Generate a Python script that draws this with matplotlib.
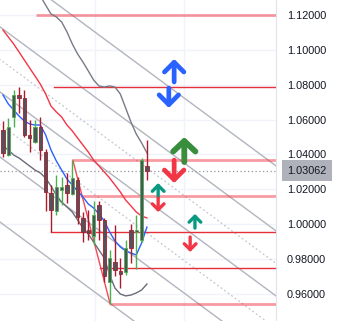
import matplotlib
matplotlib.use("Agg")
import matplotlib.pyplot as plt
import numpy as np

plt.rcParams['font.family'] = ['Liberation Sans', 'DejaVu Sans']

# velas (indice de barra, precios)
opens = [1.0540, 1.0396, 1.0615, 1.0741, 1.0724, 1.0512, 1.0471, 1.0557, 1.0414, 1.0179,
         1.0076, 1.0196, 1.0225, 1.0173, 1.0254, 1.0036, 0.9967, 0.9933, 1.0110, 1.0024,
         0.9669, 0.9784, 0.9732, 0.9726, 0.9967, 0.9956, 0.9910, 1.0334]
highs = [1.0592, 1.0609, 1.0770, 1.0787, 1.0770, 1.0598, 1.0598, 1.0615, 1.0431, 1.0225,
         1.0282, 1.0271, 1.0294, 1.0368, 1.0271, 1.0071, 1.0082, 1.0133, 1.0133, 1.0036,
         0.9852, 0.9996, 0.9807, 0.9910, 1.0000, 1.0053, 1.0380, 1.0483]
lows = [1.0386, 1.0390, 1.0557, 1.0638, 1.0500, 1.0414, 1.0465, 1.0368, 1.0076, 0.9956,
        1.0053, 1.0110, 1.0122, 1.0167, 1.0000, 0.9899, 0.9910, 0.9882, 0.9910, 0.9669,
        0.9544, 0.9706, 0.9634, 0.9709, 0.9778, 0.9744, 0.9899, 1.0254]
closes = [1.0408, 1.0557, 1.0741, 1.0724, 1.0512, 1.0494, 1.0557, 1.0426, 1.0184, 1.0082,
          1.0213, 1.0213, 1.0179, 1.0265, 1.0041, 0.9956, 0.9950, 1.0053, 1.0024, 0.9706,
          0.9807, 0.9738, 0.9715, 0.9864, 0.9864, 0.9967, 1.0368, 1.03062]

# medias moviles
ma_azul = [1.0741, 1.0690, 1.0655, 1.0621, 1.0592, 1.0575, 1.0569, 1.0569, 1.0512, 1.0426,
           1.0363, 1.0311, 1.0259, 1.0225, 1.0190, 1.0156, 1.0116, 1.0093, 1.0059, 1.0019,
           0.9956, 0.9904, 0.9870, 0.9847, 0.9835, 0.9824, 0.9893, 0.9984]
ma_roja = [1.1114, 1.1074, 1.1034, 1.0988, 1.0942, 1.0896, 1.0850, 1.0804, 1.0747, 1.0678,
           1.0644, 1.0615, 1.0569, 1.0535, 1.0494, 1.0454, 1.0414, 1.0368, 1.0334, 1.0300,
           1.0265, 1.0225, 1.0185, 1.0139, 1.0105, 1.0070, 1.0047, 1.0036]
ma_gris_baja = [1.0449, 1.0426, 1.0397, 1.0380, 1.0357, 1.0334, 1.0311, 1.0294, 1.0265, 1.0219,
                1.0167, 1.0127, 1.0099, 1.0070, 1.0024, 0.9979, 0.9944, 0.9898, 0.9852, 0.9807,
                0.9709, 0.9634, 0.9600, 0.9589, 0.9594, 0.9606, 0.9623, 0.9657]
ma_gris_alta_inicio = 7
ma_gris_alta = [1.1309, 1.1257, 1.1206, 1.1189, 1.1160, 1.1103, 1.1034, 1.0976, 1.0930, 1.0879,
                1.0827, 1.0793, 1.0787, 1.0793, 1.0787, 1.0747, 1.0667, 1.0586, 1.0517, 1.0466,
                1.0409]

# niveles horizontales (precio, barra de inicio, grueso)
niveles = [1.1200, 1.0787, 1.0368, 1.0162, 0.9956, 0.9749, 0.9543]
niveles_inicio = [6.2, 9.6, 13.1, 14.4, 9.0, 18.2, 20.1]
niveles_gruesos = [True, False, True, True, False, False, True]

# linea roja diagonal (maximo barra 13 -> minimo barra 20)
diag_x = [13.1, 20.1]
diag_y = [1.0368, 0.9543]

# canal de lineas paralelas
canal_base = 1.1119       # precio en barra 0
canal_pendiente = -0.00226
canal_paso = 0.0373
canal_solidas = [1, 0, -1, -2, -3]
canal_punteadas = [-0.5, -1.5]

# flechas (barra, desde, hasta, color, tipo)
flechas_x = [32.1, 31.1, 34.0, 32.1, 29.1, 29.1, 36.0, 35.1]
flechas_desde = [1.0816, 1.0781, 1.0357, 1.0368, 1.0156, 1.0150, 0.9978, 0.9927]
flechas_hasta = [1.0948, 1.0667, 1.0500, 1.0236, 1.0236, 1.0070, 1.0059, 0.9841]
flechas_color = ['#2962ff', '#2962ff', '#388e3c', '#f23645', '#089981', '#f23645', '#089981', '#f23645']
flechas_tipo = ['g', 'g', 'xg', 'g', 'p', 'p', 'p', 'p']

ultimo = 1.03062
yticks = [0.96, 0.98, 1.00, 1.02, 1.04, 1.06, 1.08, 1.10, 1.12]


fig = plt.figure(figsize=(3.43, 3.21), dpi=100)
ax = fig.add_axes([0, 0, 276 / 343, 1])
ax.set_xlim(-0.56, 51.2)
ax.set_ylim(0.94451, 1.1286)

# rejilla
for t in yticks:
    ax.axhline(t, color='#f0f3fa', lw=1, zorder=0)
for gx in [17.25, 34.0]:
    ax.axvline(gx, color='#f0f3fa', lw=1, zorder=0)

# canal
xs = np.array([-1, 52])
for k in canal_solidas:
    ax.plot(xs, canal_base + k * canal_paso + canal_pendiente * xs, color='#b2b5be', lw=1, zorder=1)
for k in canal_punteadas:
    ax.plot(xs, canal_base + k * canal_paso + canal_pendiente * xs, color='#c3c6ce', lw=0.9,
            ls=(0, (1.5, 2)), zorder=1)

# niveles
for p, x0, grueso in zip(niveles, niveles_inicio, niveles_gruesos):
    if grueso:
        ax.plot([x0, 52], [p, p], color='#f23645', alpha=0.5, lw=2, solid_capstyle='butt', zorder=2)
    else:
        ax.plot([x0, 52], [p, p], color='#e5303c', lw=1, zorder=2)
ax.plot(diag_x, diag_y, color='#f23645', lw=1, alpha=0.9, zorder=2)

# precio actual
ax.axhline(ultimo, color='#9598a1', lw=0.9, ls=(0, (1, 2)), zorder=2)

# medias
n = len(closes)
idx = np.arange(n)
ax.plot(idx, ma_azul, color='#2962ff', lw=1, zorder=3)
ax.plot(idx, ma_roja, color='#f23645', lw=1, zorder=3)
ax.plot(idx, ma_gris_baja, color='#6a6d78', lw=1, zorder=3)
ax.plot(np.arange(ma_gris_alta_inicio, n), ma_gris_alta, color='#787b86', lw=1, zorder=3)

# velas
for i in range(n):
    sube = closes[i] >= opens[i]
    c = '#4caf50' if sube else '#a91d2b'
    ax.vlines(i, lows[i], highs[i], color=c, lw=1, zorder=4)
    abajo = min(opens[i], closes[i])
    alto = max(abs(closes[i] - opens[i]), 0.0012)
    ax.bar(i, alto, bottom=abajo, width=0.64, color='#50535e', edgecolor=c, lw=0.6, zorder=5)

# flechas
estilos = {'g': (0.7, 0.7, 3.4), 'xg': (0.8, 0.75, 4.2), 'p': (0.42, 0.42, 2.4)}
for x, a, b, c, t in zip(flechas_x, flechas_desde, flechas_hasta, flechas_color, flechas_tipo):
    hw, hl, lw = estilos[t]
    ax.annotate('', xy=(x, b), xytext=(x, a),
                arrowprops=dict(arrowstyle=f'->,head_length={hl},head_width={hw}',
                                lw=lw, color=c, shrinkA=0, shrinkB=0), zorder=6)

# eje de precios
ax.set_xticks([])
ax.set_yticks(yticks)
ax.set_yticklabels([f'{t:.5f}' for t in yticks])
ax.yaxis.tick_right()
ax.tick_params(axis='y', length=0, pad=8, labelsize=7.8, labelcolor='#131722')
for s in ['left', 'top', 'bottom']:
    ax.spines[s].set_visible(False)
ax.spines['right'].set_color('#e0e3eb')

ax.text(1.0 + 11 / 276, ultimo, f'{ultimo:.5f}', transform=ax.get_yaxis_transform(),
        va='center', ha='left', fontsize=7.8, color='#131722',
        bbox=dict(boxstyle='square,pad=0.5', fc='#afb2ba', ec='none'))

fig.savefig('out.png', dpi=100)
